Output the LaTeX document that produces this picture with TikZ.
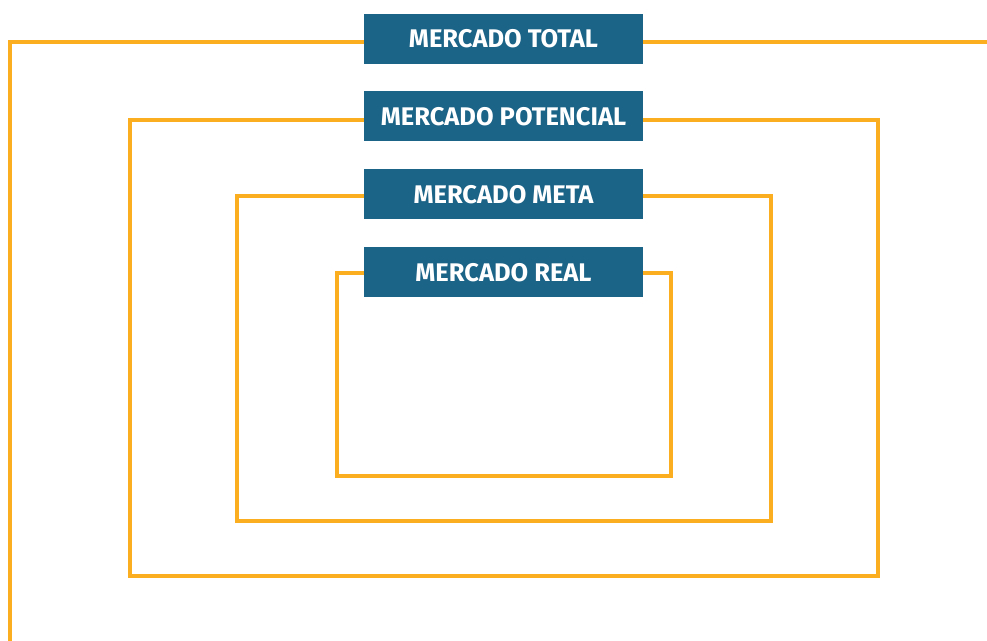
\documentclass[tikz,border=0pt]{standalone}
\usepackage{fontspec}
\setmainfont{Fira Sans}
\usetikzlibrary{positioning}
\definecolor{marketblue}{HTML}{1B6387}
\definecolor{marketorange}{HTML}{FBAE1F}

\begin{document}
\begin{tikzpicture}[x=1pt,y=-1pt,
    label box/.style={fill=marketblue,text=white,font=\bfseries\fontsize{25.5}{28}\selectfont,
        minimum width=279pt,minimum height=50pt,inner sep=0pt},
    frame/.style={marketorange,line width=4pt}]
    \useasboundingbox (0,0) rectangle (987,640);
    % labels
    \node[label box] (total) at (503.5,38.5) {MERCADO TOTAL};
    \node[label box,below=27.5pt of total] (potencial) {MERCADO POTENCIAL};
    \node[label box,below=27.5pt of potencial] (meta) {MERCADO META};
    \node[label box,below=27.5pt of meta] (real) {MERCADO REAL};
    % nested frames
    \draw[frame] (total.west |- 0,42) -- (10,42) -- (10,645);
    \draw[frame] (total.east |- 0,42) -- (992,42);
    \draw[frame] (potencial.west |- 0,120) -- (130,120) -- (130,576) -- (878,576) -- (878,120) -- (potencial.east |- 0,120);
    \draw[frame] (meta.west |- 0,196) -- (237,196) -- (237,521) -- (771,521) -- (771,196) -- (meta.east |- 0,196);
    \draw[frame] (real.west |- 0,273) -- (337,273) -- (337,476) -- (671,476) -- (671,273) -- (real.east |- 0,273);
\end{tikzpicture}
\end{document}
